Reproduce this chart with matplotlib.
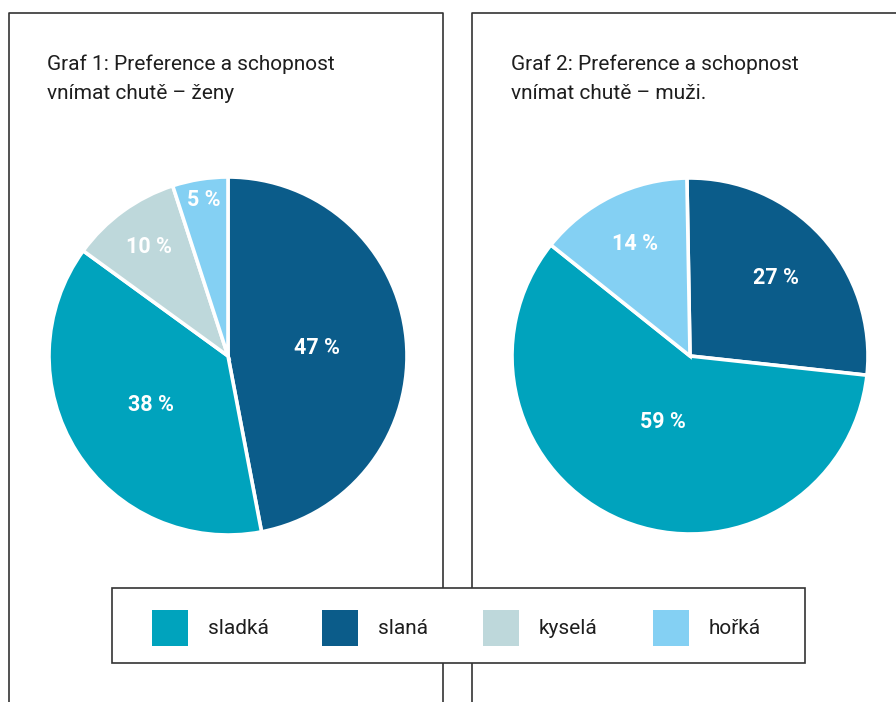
import matplotlib
matplotlib.use("Agg")
import matplotlib.pyplot as plt
from matplotlib.patches import Rectangle
import numpy as np

plt.rcParams['font.family'] = ['Roboto', 'DejaVu Sans']

# data
categories = ["sladká", "slaná", "kyselá", "hořká"]
colors = ["#00a3bd", "#0b5c8a", "#bed8db", "#84d0f3"]

titles = ["Graf 1: Preference a schopnost\nvnímat chutě – ženy",
          "Graf 2: Preference a schopnost\nvnímat chutě – muži."]

# order of drawing (clockwise from top)
zeny_labels = ["slaná", "sladká", "kyselá", "hořká"]
zeny_values = [47, 38, 10, 5]
muzi_labels = ["slaná", "sladká", "hořká"]
muzi_values = [27, 59, 14]

W, H = 896, 702
fig = plt.figure(figsize=(W / 100, H / 100), dpi=100)

# overlay in pixel coords
bg = fig.add_axes([0, 0, 1, 1])
bg.set_xlim(0, W)
bg.set_ylim(H, 0)
bg.axis('off')

lc = "#333333"
# panel frames (open at the bottom)
bg.plot([9, 9, 443, 443], [H, 13, 13, H], color=lc, lw=1.2)
bg.plot([472, 472, W + 5], [H, 13, 13], color=lc, lw=1.2)

bg.text(47, 79, titles[0], fontsize=15, color="#1e1e1e", va='center', linespacing=1.65)
bg.text(511, 79, titles[1], fontsize=15, color="#1e1e1e", va='center', linespacing=1.65)


def draw_pie(cx, cy, r, labels, values, start, dists):
    ax = fig.add_axes([(cx - r) / W, (H - cy - r) / H, 2 * r / W, 2 * r / H])
    cols = [colors[categories.index(l)] for l in labels]
    ax.pie(values, colors=cols, startangle=start, counterclock=False,
           wedgeprops=dict(edgecolor='white', linewidth=2.6))
    ax.set_xlim(-1, 1)
    ax.set_ylim(-1, 1)
    ax.set_aspect('equal')
    ax.axis('off')
    tot = float(sum(values))
    a0 = start
    for v, d in zip(values, dists):
        ang = np.deg2rad(a0 - 360 * v / tot / 2)
        ax.text(d * np.cos(ang), d * np.sin(ang), "%d %%" % v, color='white',
                fontsize=15.5, fontweight='bold', ha='center', va='center')
        a0 -= 360 * v / tot


draw_pie(228, 356, 179, zeny_labels, zeny_values, 90, [0.5, 0.51, 0.75, 0.88])
draw_pie(690, 356, 178, muzi_labels, muzi_values, 91, [0.65, 0.4, 0.7])

# legend box
bg.add_patch(Rectangle((112, 588), 693, 75, facecolor='white', edgecolor=lc, lw=1.2, zorder=3))
lx = [152, 322, 483, 653]
for i, c in enumerate(categories):
    bg.add_patch(Rectangle((lx[i], 610), 36, 36, facecolor=colors[i], edgecolor='none', zorder=4))
    bg.text(lx[i] + 56, 628, c, fontsize=15, color="#1e1e1e", va='center', zorder=4)

fig.savefig("out.png", dpi=100)
